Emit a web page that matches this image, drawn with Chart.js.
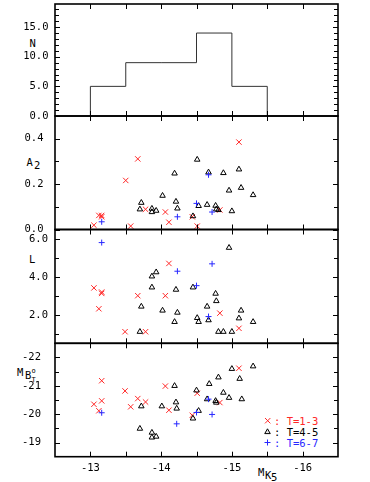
<!DOCTYPE html>
<html>
<head>
<meta charset="utf-8">
<script src="https://cdn.jsdelivr.net/npm/chart.js@4/dist/chart.umd.min.js"></script>
<style>
body { margin: 0; background: #fff; }
#wrap { position: relative; width: 370px; height: 482px; overflow: hidden; font-family: "DejaVu Sans Mono", monospace; color: #000; }
#wrap canvas { position: absolute; left: 0; }
.t { position: absolute; font-size: 10.5px; line-height: 10.5px; white-space: nowrap; }
</style>
</head>
<body>
<div id="wrap">
	<span class="t" style="left:29.5px;top:38px">N</span>
	<span class="t" style="left:26.5px;top:156.5px">A</span>
	<span class="t" style="left:34px;top:159.5px">2</span>
	<span class="t" style="left:29px;top:253.5px">L</span>
	<span class="t" style="left:17px;top:366.5px">M</span>
	<span class="t" style="left:25px;top:369.5px">B</span>
	<span class="t" style="left:31.5px;top:366px;font-size:7px">o</span>
	<span class="t" style="left:31.5px;top:375px;font-size:7px">T</span>
	<span class="t" style="left:258px;top:466.5px">M</span>
	<span class="t" style="left:265px;top:469.5px">K</span>
	<span class="t" style="left:271px;top:472px">5</span>
	<span class="t" style="left:274px;top:415.7px;color:rgb(255,40,40)">: T=1-3</span>
	<span class="t" style="left:274px;top:427px;color:#000">: T=4-5</span>
	<span class="t" style="left:274px;top:438px;color:rgb(40,40,255)">: T=6-7</span>
</div>
<script>
// x axis (absolute K magnitude)
const xTicks = [-13, -14, -15, -16];
const xMinor = [-13, -13.5, -14, -14.5, -15, -15.5, -16];

// histogram of galaxies per bin
const binLo = [-13, -13.5, -14, -14.5, -15];
const binHi = [-13.5, -14, -14.5, -15, -15.5];
const counts = [5, 9, 9, 14, 5];

// y tick labels per panel
const nTicks = [0, 5, 10, 15];
const nLabels = ['0.0', '5.0', '10.0', '15.0'];
const a2Ticks = [0, 0.2, 0.4];
const a2Labels = ['0.0', '0.2', '0.4'];
const lTicks = [2, 4, 6];
const lLabels = ['2.0', '4.0', '6.0'];
const mbTicks = [-22, -21, -20, -19];
const mbLabels = ['-22', '-21', '-20', '-19'];

// T=1-3 (red crosses)
const t13A2x = [-13.05, -13.12, -13.16, -13.16, -13.50, -13.57, -13.67, -13.78, -14.06, -14.11, -14.44, -14.51, -14.83, -15.10];
const t13A2 = [0.019, 0.062, 0.062, 0.056, 0.216, 0.015, 0.311, 0.089, 0.077, 0.032, 0.056, 0.015, 0.086, 0.385];
const t13Lx = [-13.05, -13.12, -13.16, -13.16, -13.49, -13.67, -13.78, -14.06, -14.11, -14.83, -15.10];
const t13L = [3.42, 2.32, 3.20, 3.13, 1.11, 3.01, 1.11, 3.01, 4.71, 2.09, 1.29];
const t13MBx = [-13.05, -13.12, -13.16, -13.16, -13.49, -13.57, -13.67, -13.78, -14.06, -14.11, -14.44, -14.51, -14.83, -15.10];
const t13MB = [-20.35, -20.12, -20.47, -21.18, -20.82, -20.26, -20.55, -20.43, -20.99, -20.14, -19.96, -20.74, -20.41, -21.62];

// T=4-5 (black triangles)
const t45A2x = [-13.72, -13.70, -13.87, -13.87, -13.93, -14.02, -14.19, -14.21, -14.23, -14.45, -14.51, -14.53, -14.65, -14.67, -14.77, -14.78, -14.81, -14.88, -14.96, -15.00, -15.10, -15.13, -15.30];
const t45A2 = [0.118, 0.089, 0.092, 0.077, 0.083, 0.149, 0.247, 0.123, 0.093, 0.059, 0.308, 0.104, 0.109, 0.252, 0.105, 0.089, 0.086, 0.249, 0.172, 0.081, 0.265, 0.184, 0.152];
const t45Lx = [-13.72, -13.70, -13.87, -13.87, -13.93, -14.02, -14.19, -14.21, -14.23, -14.45, -14.51, -14.53, -14.65, -14.67, -14.77, -14.78, -14.81, -14.88, -14.96, -15.00, -15.10, -15.13, -15.30];
const t45L = [2.44, 1.11, 4.03, 3.45, 4.25, 2.23, 1.63, 3.33, 2.12, 3.45, 1.84, 1.63, 2.44, 1.72, 3.12, 2.73, 1.11, 1.11, 5.54, 1.11, 1.82, 2.23, 1.63];
const t45MBx = [-13.72, -13.70, -13.87, -13.87, -13.93, -14.01, -14.19, -14.21, -14.22, -14.45, -14.50, -14.53, -14.65, -14.68, -14.77, -14.78, -14.81, -14.88, -14.96, -15.00, -15.11, -15.14, -15.30];
const t45MB = [-20.28, -19.49, -19.35, -19.18, -19.21, -20.28, -21.00, -20.42, -20.20, -19.85, -20.84, -20.12, -20.53, -21.07, -20.47, -20.41, -21.30, -20.76, -20.58, -21.60, -21.25, -20.53, -21.69];

// T=6-7 (blue plus)
const t67A2x = [-13.16, -14.23, -14.50, -14.67, -14.72];
const t67A2 = [0.034, 0.056, 0.115, 0.241, 0.077];
const t67Lx = [-13.16, -14.23, -14.50, -14.67, -14.72];
const t67L = [5.81, 4.30, 3.54, 1.91, 4.69];
const t67MBx = [-13.16, -14.22, -14.50, -14.67, -14.72];
const t67MB = [-20.05, -19.66, -20.06, -20.53, -19.99];

const RED = 'rgb(255,40,40)';
const BLUE = 'rgb(40,40,255)';
const FONT = { family: '"DejaVu Sans Mono", monospace', size: 10.5 };
const PAD = 26; // room round each panel so label padding never moves the frame

function pts(xs, ys) {
	return xs.map((x, i) => ({ x: x, y: ys[i] }));
}

function scatterSets(xr, yr, xb, yb, xp, yp) {
	return [
		{ data: pts(xr, yr), pointStyle: 'crossRot', radius: 3.8, borderColor: RED, borderWidth: 1, order: 3 },
		{ data: pts(xb, yb), pointStyle: 'triangle', radius: 3.2, borderColor: '#000', backgroundColor: 'rgba(0,0,0,0)', borderWidth: 1, order: 2 },
		{ data: pts(xp, yp), pointStyle: 'cross', radius: 3, borderColor: BLUE, borderWidth: 1, order: 1 }
	];
}

// frame, inward ticks on all four sides, and optional legend marks
function framePlugin(minor, major, legend) {
	return {
		id: 'frame',
		afterDatasetsDraw(chart) {
			const { ctx, chartArea: a, scales } = chart;
			const x = scales.x, y = scales.y;
			ctx.save();
			ctx.strokeStyle = '#000';
			ctx.lineWidth = 1;
			ctx.beginPath();
			xMinor.forEach(v => {
				const px = Math.round(x.getPixelForValue(v)) + 0.5;
				ctx.moveTo(px, a.top); ctx.lineTo(px, a.top + 5);
				ctx.moveTo(px, a.bottom); ctx.lineTo(px, a.bottom - 5);
			});
			minor.forEach(v => {
				const py = Math.round(y.getPixelForValue(v)) + 0.5;
				const len = major.includes(v) ? 5 : 4;
				ctx.moveTo(a.left, py); ctx.lineTo(a.left + len, py);
				ctx.moveTo(a.right, py); ctx.lineTo(a.right - len, py);
			});
			ctx.stroke();
			ctx.lineWidth = 1.6;
			ctx.strokeRect(a.left, a.top, a.right - a.left, a.bottom - a.top);
			if (legend) {
				legend.forEach(l => {
					ctx.strokeStyle = l.color;
					ctx.lineWidth = 1;
					Chart.helpers.drawPoint(ctx, { pointStyle: l.style, radius: l.r, rotation: 0, borderWidth: 1 }, l.x, l.y - chart.canvas.offsetTop);
				});
			}
			ctx.restore();
		}
	};
}

function makePanel(cfg) {
	const xH = cfg.showX ? 26 : 0;
	const cTop = Math.floor(cfg.top - PAD);
	const h = Math.ceil(cfg.bottom + xH + (cfg.showX ? 0 : PAD) - cTop);
	const canvas = document.createElement('canvas');
	canvas.width = 370;
	canvas.height = h;
	canvas.style.top = cTop + 'px';
	canvas.style.width = '370px';
	canvas.style.height = h + 'px';
	document.getElementById('wrap').appendChild(canvas);

	return new Chart(canvas.getContext('2d'), {
		type: 'scatter',
		data: { datasets: cfg.datasets },
		options: {
			responsive: false,
			devicePixelRatio: 1,
			animation: false,
			events: [],
			layout: { padding: { left: 0, right: 32, top: cfg.top - cTop, bottom: h - (cfg.bottom - cTop) - xH } },
			plugins: { legend: { display: false }, tooltip: { enabled: false } },
			scales: {
				x: {
					type: 'linear',
					display: !!cfg.showX,
					reverse: true,
					min: -16.5,
					max: -12.5,
					afterBuildTicks: s => { s.ticks = xTicks.map(v => ({ value: v })); },
					afterFit: s => { s.height = xH; },
					grid: { display: false, drawTicks: false },
					border: { display: false },
					ticks: { font: FONT, color: '#000', padding: 5.5, maxRotation: 0, autoSkip: false }
				},
				y: {
					type: 'linear',
					position: 'left',
					min: cfg.min,
					max: cfg.max,
					reverse: !!cfg.reverse,
					afterBuildTicks: s => { s.ticks = cfg.ticks.map(v => ({ value: v })); },
					afterFit: s => { s.width = 55; },
					grid: { display: false, drawTicks: false },
					border: { display: false },
					ticks: {
						font: FONT,
						color: '#000',
						padding: cfg.pad,
						autoSkip: false,
						callback: v => cfg.labels[cfg.ticks.indexOf(v)]
					}
				}
			},
			elements: { point: { hitRadius: 0 } },
			datasets: { scatter: { clip: false } }
		},
		plugins: [framePlugin(cfg.minor, cfg.ticks, cfg.legend)]
	});
}

// histogram outline: start on the baseline, one vertex per bin, close at the last edge
const histData = [{ x: binLo[0], y: 0 }]
	.concat(binLo.map((lo, i) => ({ x: lo, y: counts[i] })))
	.concat([{ x: binHi[binHi.length - 1], y: 0 }]);

makePanel({
	top: 4, bottom: 116, min: 0, max: 18.9,
	ticks: nTicks, labels: nLabels, pad: 6.5,
	minor: [0, 1, 2, 3, 4, 5, 6, 7, 8, 9, 10, 11, 12, 13, 14, 15, 16, 17, 18],
	datasets: [{ data: histData, showLine: true, stepped: 'before', borderColor: '#333', borderWidth: 1, pointRadius: 0, fill: false }]
});

makePanel({
	top: 116, bottom: 229.5, min: 0, max: 0.5,
	ticks: a2Ticks, labels: a2Labels, pad: 11.5,
	minor: [0, 0.1, 0.2, 0.3, 0.4],
	datasets: scatterSets(t13A2x, t13A2, t45A2x, t45A2, t67A2x, t67A2)
});

makePanel({
	top: 229.5, bottom: 343.3, min: 0.5, max: 6.5,
	ticks: lTicks, labels: lLabels, pad: 7,
	minor: [1, 2, 3, 4, 5, 6],
	datasets: scatterSets(t13Lx, t13L, t45Lx, t45L, t67Lx, t67L)
});

makePanel({
	top: 343.3, bottom: 456.7, min: -22.5, max: -18.5, reverse: true,
	ticks: mbTicks, labels: mbLabels, pad: 14, showX: true,
	minor: [-22, -21.5, -21, -20.5, -20, -19.5, -19],
	legend: [
		{ style: 'crossRot', r: 3.8, color: RED, x: 267.7, y: 420.7 },
		{ style: 'triangle', r: 3.2, color: '#000', x: 267.5, y: 432 },
		{ style: 'cross', r: 3, color: BLUE, x: 267.5, y: 442.5 }
	],
	datasets: scatterSets(t13MBx, t13MB, t45MBx, t45MB, t67MBx, t67MB)
});
</script>
</body>
</html>
